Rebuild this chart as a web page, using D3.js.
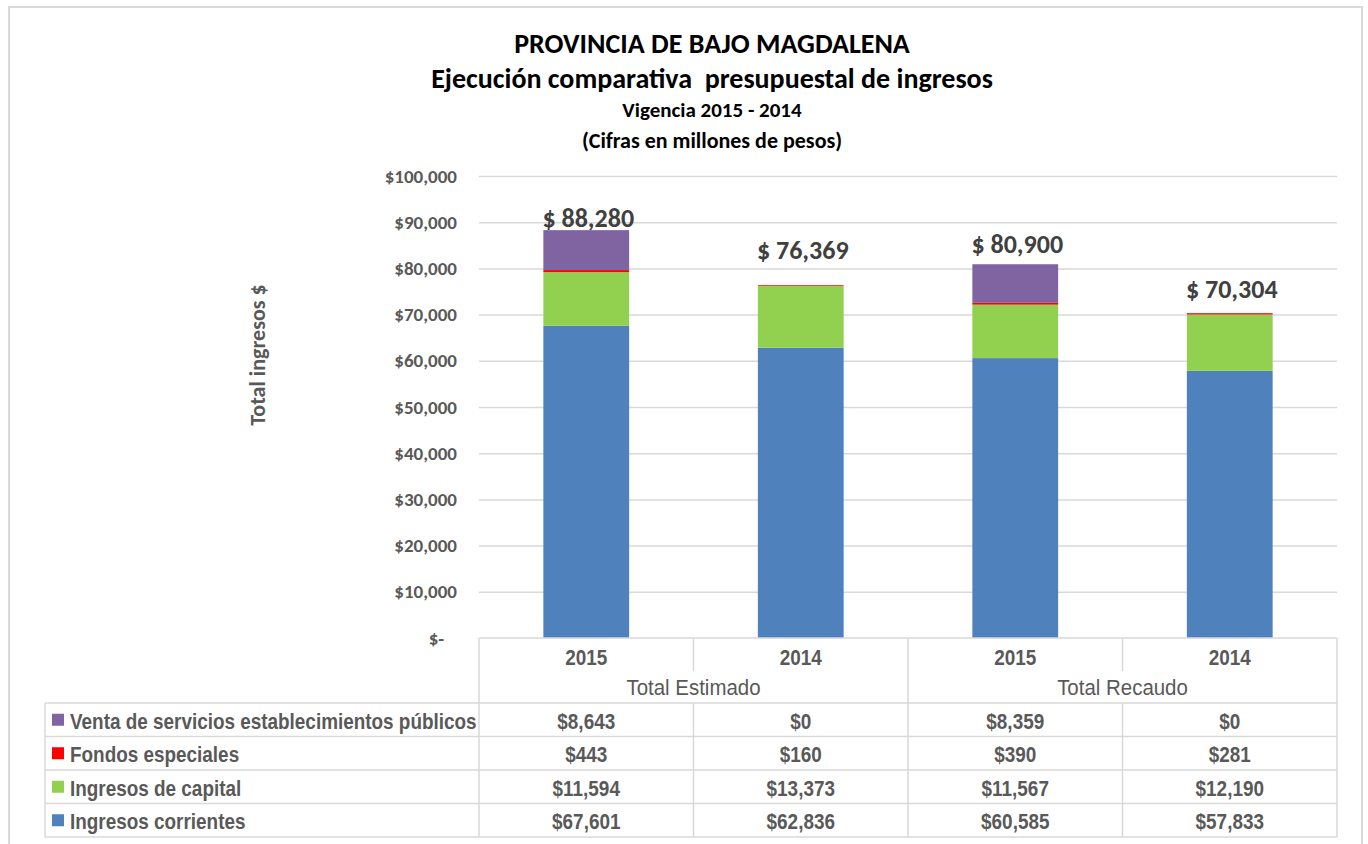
<!DOCTYPE html>
<html>
<head>
<meta charset="utf-8">
<script src="https://cdn.jsdelivr.net/npm/d3@7"></script>
<style>
  html, body { margin: 0; padding: 0; background: #fff; }
  svg { display: block; }
</style>
</head>
<body>
<div id="chart"></div>
<script>
// Data
const categories = ["2015", "2014", "2015", "2014"];
const groups = ["Total Estimado", "Total Recaudo"];
const seriesKeys = ["corrientes", "capital", "fondos", "venta"];
const seriesNames = ["Ingresos corrientes", "Ingresos de capital", "Fondos especiales", "Venta de servicios establecimientos públicos"];
const corrientes = [67601, 62836, 60585, 57833];
const capital = [11594, 13373, 11567, 12190];
const fondos = [443, 160, 390, 281];
const venta = [8643, 0, 8359, 0];
const totals = [88280, 76369, 80900, 70304];
const yTicks = [0, 10000, 20000, 30000, 40000, 50000, 60000, 70000, 80000, 90000, 100000];

const colors = { corrientes: "#4f81bd", capital: "#92d050", fondos: "#ff0000", venta: "#8064a2" };
const labelLift = [3, 26, 11, 15]; // labels sit by hand above each bar
const width = 1368, height = 844;
const plot = { left: 479, right: 1337, top: 176, bottom: 638 };
const table = { left: 45, rowH: 33.5, headTop: 638, bodyTop: 703 };
const grid = "#d9d9d9";
const txt = "#595959";
const calibri = "Carlito, Calibri, Lato, sans-serif";
const narrow = "'Liberation Sans', Arial, sans-serif";
const squeeze = 0.86; // fake Arial Narrow

const rows = categories.map((c, i) => ({
  i, cat: c,
  corrientes: corrientes[i], capital: capital[i], fondos: fondos[i], venta: venta[i]
}));

const svg = d3.select("#chart").append("svg")
  .attr("width", width).attr("height", height);

// outer frame
svg.append("rect")
  .attr("x", 9).attr("y", 7).attr("width", 1353).attr("height", 900)
  .attr("fill", "none").attr("stroke", grid).attr("stroke-width", 2);

// titles
const titles = [
  { t: "PROVINCIA DE BAJO MAGDALENA", y: 53, s: 28 },
  { t: "Ejecución comparativa  presupuestal de ingresos", y: 88, s: 28 },
  { t: "Vigencia 2015 - 2014", y: 117, s: 21 },
  { t: "(Cifras en millones de pesos)", y: 148, s: 22 }
];
svg.append("g").selectAll("text").data(titles).enter().append("text")
  .attr("x", 712).attr("y", d => d.y)
  .attr("text-anchor", "middle")
  .attr("font-family", calibri).attr("font-weight", "bold")
  .attr("font-size", d => d.s + "px").attr("fill", "#000")
  .style("white-space", "pre")
  .text(d => d.t);

// scales
const x = d3.scaleBand().domain(d3.range(categories.length))
  .range([plot.left, plot.right]).paddingInner(0.6).paddingOuter(0.3);
const xCol = d3.scaleBand().domain(d3.range(categories.length))
  .range([plot.left, plot.right]);
const xGroup = d3.scaleBand().domain(d3.range(groups.length))
  .range([plot.left, plot.right]);
const y = d3.scaleLinear().domain([0, 100000]).range([plot.bottom, plot.top]);

// gridlines
svg.append("g")
  .attr("transform", `translate(${plot.left},0)`)
  .call(d3.axisLeft(y).tickValues(yTicks.slice(1)).tickSize(-(plot.right - plot.left)).tickFormat(""))
  .call(g => g.select(".domain").remove())
  .call(g => g.selectAll("line").attr("stroke", grid).attr("stroke-width", 1.5));

// y tick labels
svg.append("g")
  .attr("transform", `translate(457,0)`)
  .call(d3.axisLeft(y).tickValues(yTicks).tickSize(0).tickPadding(0)
    .tickFormat(v => v === 0 ? "$-   " : "$" + d3.format(",")(v)))
  .call(g => g.select(".domain").remove())
  .call(g => g.selectAll("text")
    .attr("font-family", calibri).attr("font-weight", "bold")
    .attr("font-size", "19px").attr("fill", txt)
    .style("white-space", "pre"));

// y axis title
svg.append("text")
  .attr("transform", `translate(265,355) rotate(-90)`)
  .attr("text-anchor", "middle")
  .attr("font-family", calibri).attr("font-weight", "bold")
  .attr("font-size", "22px").attr("fill", txt)
  .text("Total ingresos $");

// stacked bars
const stack = d3.stack().keys(seriesKeys)(rows);
svg.append("g").selectAll("g").data(stack).enter().append("g")
  .attr("fill", d => colors[d.key])
  .selectAll("rect").data(d => d).enter().append("rect")
  .attr("x", d => x(d.data.i))
  .attr("width", x.bandwidth())
  .attr("y", d => y(d[1]))
  .attr("height", d => y(d[0]) - y(d[1]));

// total labels
svg.append("g").selectAll("text").data(totals).enter().append("text")
  .attr("x", (d, i) => x(i) + x.bandwidth() / 2 + 2)
  .attr("y", (d, i) => y(d) - labelLift[i])
  .attr("text-anchor", "middle")
  .attr("font-family", calibri).attr("font-weight", "bold")
  .attr("font-size", "26px").attr("fill", "#404040")
  .text(d => "$ " + d3.format(",")(d));

// data table
const tg = svg.append("g").attr("stroke", grid).attr("stroke-width", 1.5);
const headMid = table.headTop + 33;
const bodyBottom = table.bodyTop + table.rowH * 4;
// horizontal lines
tg.append("line").attr("x1", plot.left).attr("x2", plot.right)
  .attr("y1", table.headTop).attr("y2", table.headTop);
d3.range(5).forEach(k => {
  const yy = table.bodyTop + k * table.rowH;
  tg.append("line").attr("x1", table.left).attr("x2", plot.right).attr("y1", yy).attr("y2", yy);
});
// vertical lines
tg.append("line").attr("x1", table.left).attr("x2", table.left).attr("y1", table.bodyTop).attr("y2", bodyBottom);
[plot.left, plot.right, xGroup(1)].forEach(xx => {
  tg.append("line").attr("x1", xx).attr("x2", xx).attr("y1", table.headTop).attr("y2", bodyBottom);
});
[xCol(1), xCol(3)].forEach(xx => {
  tg.append("line").attr("x1", xx).attr("x2", xx).attr("y1", table.headTop).attr("y2", headMid);
  tg.append("line").attr("x1", xx).attr("x2", xx).attr("y1", table.bodyTop).attr("y2", bodyBottom);
});

// narrow text helper: position via transform so the glyphs can be squeezed
const cellText = (sel, sx) => sel
  .attr("font-family", narrow).attr("font-size", "22px").attr("fill", txt)
  .attr("dominant-baseline", "central")
  .attr("transform", d => `translate(${d.x},${d.y}) scale(${sx || squeeze},1)`);

// year row
svg.append("g").selectAll("text")
  .data(categories.map((c, i) => ({ t: c, x: xCol(i) + xCol.bandwidth() / 2, y: table.headTop + 19 })))
  .enter().append("text")
  .call(cellText)
  .attr("font-weight", "bold")
  .attr("text-anchor", "middle")
  .text(d => d.t);

// group row
svg.append("g").selectAll("text")
  .data(groups.map((g, i) => ({ t: g, x: xGroup(i) + xGroup.bandwidth() / 2, y: table.headTop + 50 })))
  .enter().append("text")
  .call(cellText, 0.93)
  .attr("text-anchor", "middle")
  .text(d => d.t);

// body rows, top to bottom: venta, fondos, capital, corrientes
const order = seriesKeys.slice().reverse();
const nameOf = k => seriesNames[seriesKeys.indexOf(k)];
order.forEach((k, r) => {
  const cy = table.bodyTop + r * table.rowH + table.rowH / 2;
  svg.append("rect")
    .attr("x", 52).attr("y", cy - 6).attr("width", 12).attr("height", 12)
    .attr("fill", colors[k]);
  svg.append("text").datum({ t: nameOf(k), x: 70, y: cy + 1 })
    .call(cellText)
    .attr("font-weight", "bold")
    .text(d => d.t);
  svg.append("g").selectAll("text")
    .data(rows.map(d => ({ t: "$" + d3.format(",")(d[k]), x: xCol(d.i) + xCol.bandwidth() / 2, y: cy + 1 })))
    .enter().append("text")
    .call(cellText)
    .attr("font-weight", "bold")
    .attr("text-anchor", "middle")
    .text(d => d.t);
});
</script>
</body>
</html>
